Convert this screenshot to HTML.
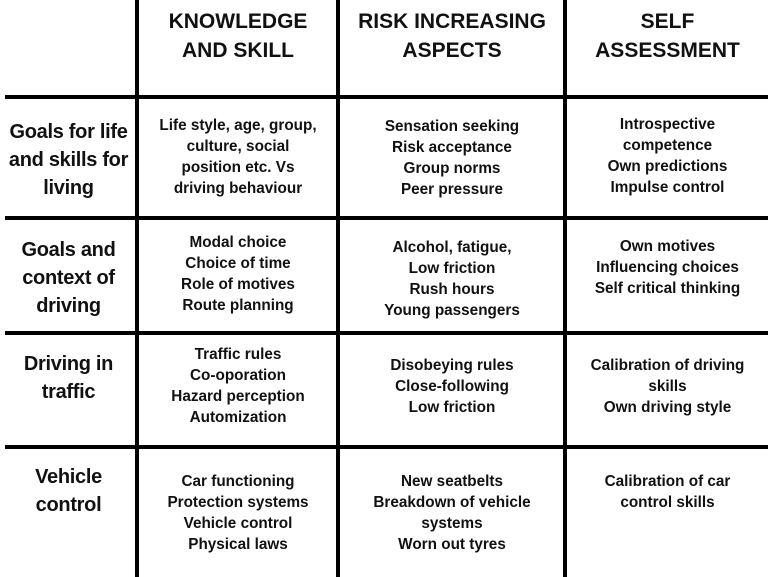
<!DOCTYPE html>
<html><head><meta charset="utf-8"><style>
html,body{margin:0;padding:0;background:#fff;}
body{width:768px;height:577px;position:relative;overflow:hidden;font-family:"Liberation Sans",Arial,sans-serif;font-weight:bold;color:#111;}
.h{position:absolute;height:4px;background:#000;left:5px;right:0;}
.v{position:absolute;width:4px;background:#000;top:0;bottom:0;}
.t{position:absolute;text-align:center;white-space:nowrap;}
.hd{font-size:21px;line-height:29px;}
.rl{font-size:20px;line-height:28px;left:0;width:137px;letter-spacing:-0.3px;}
.c{font-size:15.3px;line-height:21px;letter-spacing:0px;}
.c1{left:139px;width:198px;}
.c2{left:340px;width:224px;}
.c3{left:567px;width:201px;}
</style></head><body>
<div class="h" style="top:95px"></div>
<div class="h" style="top:216px"></div>
<div class="h" style="top:331px"></div>
<div class="h" style="top:445px"></div>
<div class="v" style="left:135px"></div>
<div class="v" style="left:336px"></div>
<div class="v" style="left:563px"></div>

<div class="t hd c1" style="top:7px">KNOWLEDGE<br>AND SKILL</div>
<div class="t hd c2" style="top:7px">RISK INCREASING<br>ASPECTS</div>
<div class="t hd c3" style="top:7px">SELF<br>ASSESSMENT</div>

<div class="t rl" style="top:118px">Goals for life<br>and skills for<br>living</div>
<div class="t rl" style="top:236px">Goals and<br>context of<br>driving</div>
<div class="t rl" style="top:350px">Driving in<br>traffic</div>
<div class="t rl" style="top:463px">Vehicle<br>control</div>

<div class="t c c1" style="top:115px">Life style, age, group,<br>culture, social<br>position etc. Vs<br>driving behaviour</div>
<div class="t c c2" style="top:116px">Sensation seeking<br>Risk acceptance<br>Group norms<br>Peer pressure</div>
<div class="t c c3" style="top:114px">Introspective<br>competence<br>Own predictions<br>Impulse control</div>

<div class="t c c1" style="top:232px">Modal choice<br>Choice of time<br>Role of motives<br>Route planning</div>
<div class="t c c2" style="top:237px">Alcohol, fatigue,<br>Low friction<br>Rush hours<br>Young passengers</div>
<div class="t c c3" style="top:236px">Own motives<br>Influencing choices<br>Self critical thinking</div>

<div class="t c c1" style="top:344px">Traffic rules<br>Co-oporation<br>Hazard perception<br>Automization</div>
<div class="t c c2" style="top:355px">Disobeying rules<br>Close-following<br>Low friction</div>
<div class="t c c3" style="top:355px">Calibration of driving<br>skills<br>Own driving style</div>

<div class="t c c1" style="top:471px">Car functioning<br>Protection systems<br>Vehicle control<br>Physical laws</div>
<div class="t c c2" style="top:471px">New seatbelts<br>Breakdown of vehicle<br>systems<br>Worn out tyres</div>
<div class="t c c3" style="top:471px">Calibration of car<br>control skills</div>
</body></html>
